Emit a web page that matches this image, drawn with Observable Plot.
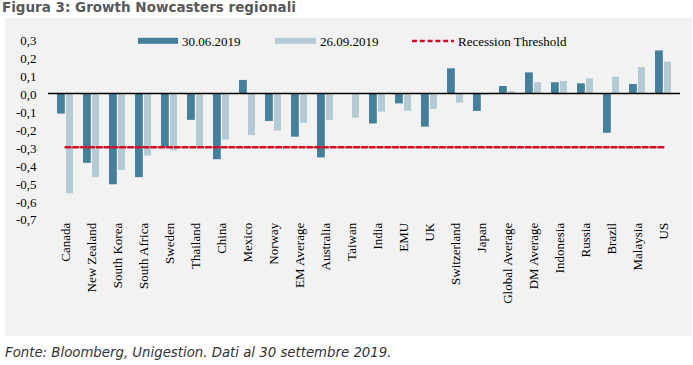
<!DOCTYPE html>
<html>
<head>
<meta charset="utf-8">
<script src="https://cdn.jsdelivr.net/npm/d3@7"></script>
<script src="https://cdn.jsdelivr.net/npm/@observablehq/plot@0.6"></script>
<style>
  html, body { margin: 0; padding: 0; background: #ffffff; }
  #wrap { position: relative; width: 693px; height: 365px; overflow: hidden; }
  #title { position: absolute; left: 2px; top: -1px; font-family: "DejaVu Sans", Verdana, sans-serif; font-weight: bold; font-size: 13.5px; color: #595959; white-space: nowrap; }
  #chart { position: absolute; left: 5px; top: 18px; }
  #caption { position: absolute; left: 5px; top: 345px; font-family: "DejaVu Sans", Verdana, sans-serif; font-style: italic; font-size: 13.3px; color: #333333; white-space: nowrap; }
  #chart svg text.lg { font-family: "Liberation Serif", "Times New Roman", serif; font-size: 13px; text-anchor: start; fill: #000; }
</style>
</head>
<body>
<div id="wrap">
  <div id="title">Figura 3: Growth Nowcasters regionali</div>
  <div id="chart"></div>
  <div id="caption">Fonte: Bloomberg, Unigestion. Dati al 30 settembre 2019.</div>
</div>
<script>
const categories = ["Canada","New Zealand","South Korea","South Africa","Sweden","Thailand","China","Mexico","Norway","EM Average","Australia","Taiwan","India","EMU","UK","Switzerland","Japan","Global Average","DM Average","Indonesia","Russia","Brazil","Malaysia","US"];
const seriesNames = ["30.06.2019", "26.09.2019"];
const values0630 = [-0.115,-0.39,-0.51,-0.47,-0.30,-0.15,-0.37,0.073,-0.156,-0.244,-0.36,0,-0.17,-0.058,-0.188,0.138,-0.10,0.039,0.115,0.06,0.054,-0.222,0.05,0.238];
const values0926 = [-0.56,-0.47,-0.43,-0.35,-0.32,-0.30,-0.26,-0.235,-0.21,-0.166,-0.15,-0.138,-0.104,-0.099,-0.089,-0.054,-0.011,0.011,0.06,0.067,0.082,0.091,0.145,0.175];
const recessionThreshold = -0.3;
const thresholdName = "Recession Threshold";
const yTicks = [0.3,0.2,0.1,0.0,-0.1,-0.2,-0.3,-0.4,-0.5,-0.6,-0.7];

const darkColor = "#447f9c";
const lightColor = "#b4cbd5";
const redColor = "#d0102a";

const rows = categories.map((c, i) => ({cat: c, a: values0630[i], b: values0926[i]}));
const thresholdRows = categories.map(c => ({cat: c, y: recessionThreshold}));

const W = 687, H = 318;
const plot = Plot.plot({
  width: W,
  height: H,
  marginLeft: 43,
  marginRight: 12,
  marginTop: 21.3,
  marginBottom: 117.7,
  style: {background: "#f2f2f2", fontFamily: "'Liberation Serif', 'Times New Roman', serif", fontSize: "13px", color: "#000"},
  x: {domain: categories, paddingInner: 0.39, paddingOuter: 0.195, label: null},
  y: {domain: [-0.7, 0.3], label: null},
  marks: [
    Plot.barY(rows, {x: "cat", y: "a", fill: darkColor, insetLeft: 0, insetRight: 8.2}),
    Plot.barY(rows, {x: "cat", y: "b", fill: lightColor, insetLeft: 9, insetRight: 0}),
    Plot.ruleY([0], {stroke: "#000", strokeWidth: 1.5}),
    Plot.lineY(thresholdRows, {x: "cat", y: "y", stroke: redColor, strokeWidth: 2.5, strokeDasharray: "5,2.8"}),
    Plot.axisY({ticks: yTicks, tickFormat: d => d.toFixed(1).replace(".", ","), tickSize: 0, tickPadding: 12, dy: 1.5, fill: "#000", fontSize: 13}),
    Plot.axisX({tickRotate: -90, tickSize: 0, tickPadding: 4, fill: "#000", fontSize: 13})
  ]
});
document.getElementById("chart").appendChild(plot);

// legend drawn inside the plot svg
const svg = d3.select(plot);
const lg = svg.append("g");
const legendItems = [
  {name: seriesNames[0], type: "rect", color: darkColor, x: 133, w: 40},
  {name: seriesNames[1], type: "rect", color: lightColor, x: 270, w: 41},
  {name: thresholdName, type: "dash", color: redColor, x: 407, w: 42}
];
legendItems.forEach(it => {
  if (it.type === "rect") {
    lg.append("rect").attr("x", it.x).attr("y", 19.8).attr("width", it.w).attr("height", 6).attr("fill", it.color);
  } else {
    lg.append("line").attr("x1", it.x).attr("x2", it.x + it.w).attr("y1", 23).attr("y2", 23)
      .attr("stroke", it.color).attr("stroke-width", 2.5).attr("stroke-dasharray", "5,2.8");
  }
  lg.append("text").attr("class", "lg").attr("x", it.x + it.w + 4).attr("y", 27.5).text(it.name);
});
</script>
</body>
</html>
